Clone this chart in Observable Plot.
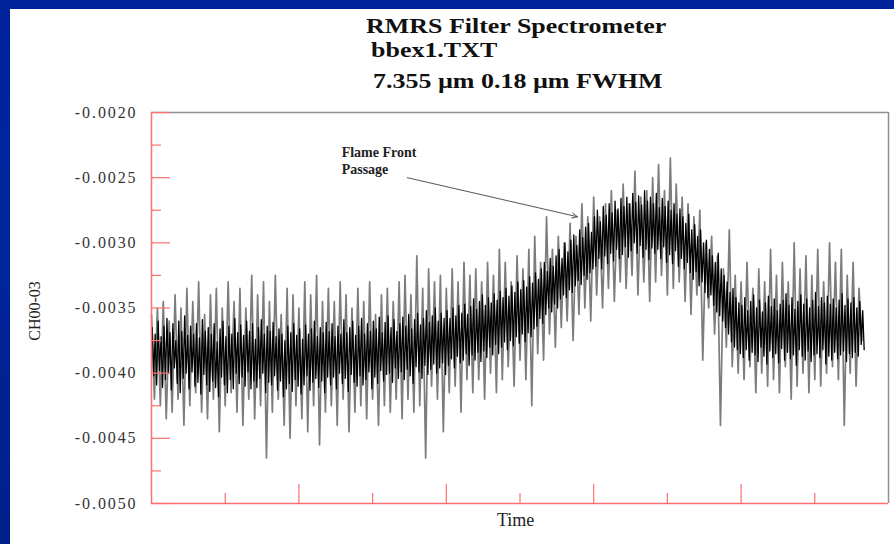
<!DOCTYPE html>
<html>
<head>
<meta charset="utf-8">
<script src="https://cdn.jsdelivr.net/npm/d3@7"></script>
<script src="https://cdn.jsdelivr.net/npm/@observablehq/plot@0.6"></script>
<style>
  html, body { margin: 0; padding: 0; }
  body {
    width: 894px; height: 544px; overflow: hidden; position: relative;
    background: linear-gradient(to bottom, #00239c 0%, #00259a 50%, #001f8a 100%);
  }
  #panel { position: absolute; left: 10px; top: 9px; width: 884px; height: 535px; background: #fff; }
  .t { position: absolute; font-family: "Liberation Serif", serif; font-weight: bold; color: #111; white-space: nowrap; transform: scaleX(1.18); transform-origin: left center; }
  #chart { position: absolute; left: 10px; top: 9px; }
  .lab { position: absolute; font-family: "Liberation Serif", serif; color: #222; white-space: nowrap; }
  .ylabels text { letter-spacing: 1.9px; }
</style>
</head>
<body>
<div id="panel"></div>
<div id="chart"></div>
<div class="t" style="left:366px; top:13px; font-size:22px;">RMRS Filter Spectrometer</div>
<div class="t" style="left:371px; top:37px; font-size:22px;">bbex1.TXT</div>
<div class="t" style="left:373px; top:68px; font-size:22px;">7.355 µm 0.18 µm FWHM</div>
<div class="lab" style="left:497px; top:510px; font-size:18px;">Time</div>
<div class="lab" style="left:35px; top:311px; font-size:16px; transform: translate(-50%,-50%) rotate(-90deg);">CH00-03</div>
<script>
// Time axis (arbitrary sample units) and value axis
const xDomain = [0, 1000];
const yDomain = [-0.0050, -0.0020];
const xMajorTicks = [200, 400, 600, 800];
const xMinorTicks = [100, 300, 500, 700, 900];
const yMajorTicks = [-0.0050, -0.0045, -0.0040, -0.0035, -0.0030, -0.0025, -0.0020];
const yMinorTicks = [-0.00475, -0.00425, -0.00375, -0.00325, -0.00275, -0.00225];

// Signal samples (values in units of 1e-6)
// Envelope trace (gray spikes), one sample every 4 time units starting at 0
const envelopeMicro = [
  -3550,-4200,-3500,-4250,-3450,-4350,-3600,-4300,-3400,-4200,
  -3500,-4400,-3350,-4250,-3450,-4150,-3300,-4300,-3550,-4350,
  -3400,-4200,-3350,-4450,-3500,-4250,-3300,-4150,-3450,-4300,
  -3350,-4400,-3500,-4200,-3250,-4350,-3400,-4250,-3300,-4650,
  -3450,-4300,-3250,-4200,-3550,-4400,-3350,-4500,-3400,-4250,
  -3500,-4350,-3300,-4450,-3400,-4250,-3250,-4550,-3450,-4300,
  -3350,-4250,-3450,-4400,-3300,-4200,-3400,-4450,-3500,-4300,
  -3350,-4250,-3450,-4350,-3300,-4200,-3550,-4400,-3400,-4250,
  -3350,-4300,-3450,-4200,-3300,-4350,-3250,-4200,-3400,-4300,
  -3100,-4250,-3350,-4650,-3200,-4100,-3300,-4200,-3250,-4450,
  -3350,-4150,-3200,-4100,-3300,-4300,-3150,-4050,-3250,-4150,
  -3200,-4050,-3300,-4200,-3150,-4000,-3250,-4150,-3050,-4050,
  -3150,-3950,-3300,-4100,-3100,-3900,-3200,-4050,-3050,-4250,
  -2950,-3850,-3150,-3900,-2800,-3700,-3050,-3800,-2950,-3650,
  -3000,-3600,-2850,-3750,-2950,-3550,-2700,-3500,-2800,-3600,
  -2650,-3400,-2800,-3500,-2700,-3350,-2600,-3450,-2750,-3300,
  -2550,-3350,-2700,-3250,-2450,-3400,-2650,-3300,-2600,-3450,
  -2500,-3300,-2400,-3250,-2600,-3400,-2350,-3350,-2550,-3300,
  -2650,-3450,-2700,-3550,-2800,-3400,-2750,-3900,-3000,-3500,
  -2950,-3700,-3100,-4400,-3200,-3800,-2900,-3950,-3250,-4000,
  -3300,-4050,-3150,-3950,-3350,-4150,-3200,-4000,-3300,-4100,
  -3050,-4050,-3250,-4150,-3150,-3950,-3300,-4200,-3000,-4100,
  -3200,-4000,-3100,-4150,-3250,-4050,-3050,-4100,-3300,-4000,
  -3000,-3950,-3150,-4050,-3050,-4400,-3250,-4000,-3150,-4100,
  -3350,-3750
];
// Core trace (dense black band), one sample every 2 time units starting at 1
const coreMicro = [
  -3650,-4020,-3700,-4090,-3600,-3980,-3720,-4110,-3640,-4050,
  -3580,-4000,-3690,-4130,-3620,-3960,-3750,-4080,-3600,-4150,
  -3680,-4040,-3560,-4000,-3710,-4120,-3640,-3990,-3700,-4100,
  -3620,-4070,-3730,-4160,-3590,-4010,-3680,-4090,-3650,-4140,
  -3700,-4060,-3620,-4110,-3760,-4180,-3660,-4030,-3600,-4090,
  -3720,-4150,-3640,-4050,-3700,-4120,-3580,-4000,-3690,-4080,
  -3630,-4030,-3710,-4100,-3600,-3990,-3680,-4120,-3620,-4060,
  -3740,-4110,-3650,-4040,-3590,-4000,-3700,-4150,-3640,-4070,
  -3680,-4090,-3610,-4020,-3720,-4130,-3660,-4060,-3700,-4180,
  -3750,-4120,-3640,-4080,-3690,-4140,-3620,-4050,-3710,-4100,
  -3660,-4160,-3740,-4090,-3630,-4020,-3700,-4130,-3660,-4070,
  -3600,-4040,-3720,-4110,-3650,-4060,-3690,-4150,-3610,-4030,
  -3680,-4090,-3620,-4030,-3720,-4120,-3640,-4000,-3700,-4080,
  -3590,-4040,-3690,-4140,-3650,-4010,-3600,-4070,-3710,-4100,
  -3640,-4020,-3580,-4090,-3700,-4050,-3620,-3990,-3680,-4120,
  -3600,-4030,-3660,-4080,-3570,-3980,-3690,-4060,-3610,-4010,
  -3560,-4000,-3650,-4070,-3590,-3960,-3680,-4040,-3620,-3990,
  -3570,-4050,-3640,-3970,-3550,-4020,-3660,-4080,-3590,-3950,
  -3540,-3990,-3630,-4040,-3580,-3940,-3520,-4010,-3610,-3970,
  -3560,-3930,-3500,-4000,-3600,-3960,-3540,-3920,-3580,-4010,
  -3520,-3940,-3580,-3890,-3500,-3960,-3560,-3870,-3480,-3920,
  -3540,-3900,-3470,-3850,-3550,-3940,-3490,-3860,-3430,-3900,
  -3510,-3840,-3450,-3910,-3400,-3830,-3480,-3880,-3420,-3800,
  -3460,-3860,-3390,-3780,-3440,-3850,-3370,-3800,-3420,-3760,
  -3350,-3820,-3410,-3750,-3330,-3790,-3380,-3720,-3300,-3770,
  -3360,-3700,-3290,-3760,-3340,-3690,-3260,-3720,-3310,-3660,
  -3230,-3640,-3280,-3580,-3200,-3620,-3150,-3550,-3220,-3500,
  -3120,-3530,-3180,-3470,-3100,-3500,-3050,-3430,-3120,-3400,
  -3000,-3420,-3070,-3360,-2980,-3380,-2940,-3330,-3020,-3290,
  -2900,-3320,-2960,-3250,-2880,-3280,-2850,-3230,-2920,-3200,
  -2800,-3180,-2750,-3120,-2840,-3200,-2720,-3100,-2790,-3160,
  -2700,-3080,-2770,-3140,-2680,-3050,-2740,-3120,-2660,-3090,
  -2720,-3030,-2650,-3110,-2700,-3060,-2620,-3000,-2690,-3080,
  -2640,-3020,-2710,-3110,-2600,-3050,-2680,-3130,-2650,-3040,
  -2700,-3080,-2620,-3050,-2730,-3120,-2660,-3030,-2720,-3150,
  -2680,-3090,-2750,-3160,-2700,-3060,-2780,-3180,-2740,-3120,
  -2800,-3200,-2850,-3150,-2780,-3230,-2900,-3280,-2860,-3220,
  -2950,-3330,-2900,-3300,-3000,-3380,-2980,-3420,-3050,-3400,
  -3100,-3480,-3150,-3530,-3080,-3560,-3200,-3600,-3250,-3650,
  -3300,-3700,-3380,-3760,-3350,-3800,-3420,-3820,-3460,-3850,
  -3480,-3880,-3420,-3820,-3520,-3900,-3450,-3840,-3400,-3860,
  -3500,-3910,-3440,-3800,-3530,-3870,-3460,-3930,-3410,-3830,
  -3490,-3880,-3430,-3850,-3520,-3920,-3470,-3810,-3440,-3900,
  -3390,-3840,-3480,-3890,-3420,-3860,-3510,-3940,-3450,-3820,
  -3400,-3870,-3470,-3900,-3430,-3830,-3500,-3910,-3440,-3860,
  -3380,-3850,-3490,-3880,-3420,-3820,-3460,-3930,-3410,-3870,
  -3470,-3900,-3430,-3840,-3500,-3890,-3440,-3860,-3390,-3830,
  -3480,-3910,-3430,-3850,-3460,-3880,-3420,-3840,-3500,-3870,
  -3450,-3780,-3520,-3820
];

// Annotation
const noteText = ["Flame Front\nPassage"];
const noteAt = [{t: 258, v: -0.00225}];
const arrowAt = [{t1: 347, v1: -0.00250, t2: 578, v2: -0.00280}];

const envelope = envelopeMicro.map((v, i) => ({t: i * 4, v: v / 1e6}));
const core = coreMicro.map((v, i) => ({t: 1 + i * 2, v: v / 1e6}));

const W = 884, H = 535;
const mL = 141, mR = 6, mT = 103, mB = 41;
const pxX = (xDomain[1] - xDomain[0]) / (W - mL - mR);
const pxY = (yDomain[1] - yDomain[0]) / (H - mT - mB);
const red = "#ff6f6f";

const chart = Plot.plot({
  width: W, height: H,
  marginLeft: mL, marginRight: mR, marginTop: mT, marginBottom: mB,
  style: {background: "transparent", fontFamily: "Liberation Serif, serif"},
  x: {domain: xDomain, axis: null},
  y: {domain: yDomain, axis: null},
  marks: [
    Plot.line(envelope, {x: "t", y: "v", stroke: "#7c7c7c", strokeWidth: 1.7}),
    Plot.line(core, {x: "t", y: "v", stroke: "#000", strokeWidth: 1.3}),
    // frame
    Plot.ruleY([yDomain[1]], {stroke: "#909090", strokeWidth: 1.5}),
    Plot.ruleX([xDomain[1]], {stroke: "#909090", strokeWidth: 1.5}),
    Plot.ruleX([xDomain[0]], {stroke: red, strokeWidth: 1.5}),
    Plot.ruleY([yDomain[0]], {stroke: red, strokeWidth: 1.5}),
    // inward ticks
    Plot.ruleY(yMajorTicks, {x1: xDomain[0], x2: xDomain[0] + 19 * pxX, stroke: red, strokeWidth: 1.2}),
    Plot.ruleY(yMinorTicks, {x1: xDomain[0], x2: xDomain[0] + 10 * pxX, stroke: red, strokeWidth: 1.2}),
    Plot.ruleX(xMajorTicks, {y1: yDomain[0], y2: yDomain[0] + 19 * pxY, stroke: red, strokeWidth: 1.2}),
    Plot.ruleX(xMinorTicks, {y1: yDomain[0], y2: yDomain[0] + 10 * pxY, stroke: red, strokeWidth: 1.2}),
    Plot.axisY({ticks: yMajorTicks, tickSize: 0, tickPadding: 14, tickFormat: d => d.toFixed(4),
      fontSize: 16, fill: "#333", label: null, className: "ylabels"}),
    // annotation
    Plot.arrow(arrowAt, {x1: "t1", y1: "v1", x2: "t2", y2: "v2", stroke: "#555", strokeWidth: 1, headLength: 9, headAngle: 50}),
    Plot.text(noteAt, {x: "t", y: "v", text: () => noteText[0], textAnchor: "start", lineAnchor: "top",
      fontSize: 14, fontWeight: "bold", fill: "#222", lineHeight: 1.2})
  ]
});
document.getElementById("chart").appendChild(chart);
</script>
</body>
</html>
